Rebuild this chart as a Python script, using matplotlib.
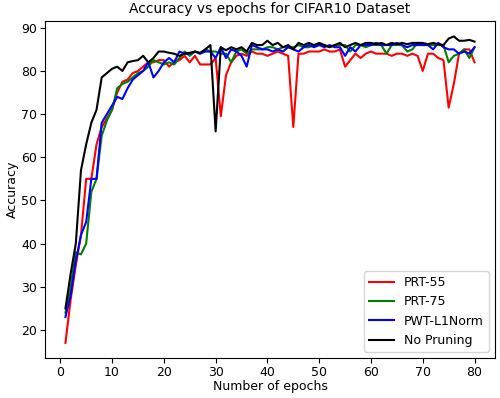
import numpy as np
import matplotlib
matplotlib.use('Agg')
import matplotlib.pyplot as plt

epochs = list(range(1, 81))

# PRT-55
prt55 = [17, 27, 35, 42, 55, 55, 63, 67, 69, 71,
         75, 77.5, 78, 79.5, 80, 81, 82, 82, 82.5, 82.5,
         81, 82, 82.5, 83.5, 82, 83.5, 81.5, 81.5, 81.5, 83,
         69.5, 79, 82, 83.5, 84, 83.5, 84.5, 84, 84, 83.5,
         84, 84.5, 84, 83.5, 67, 84, 84, 84.5, 84.5, 84.5,
         85, 84.5, 84.5, 85, 81, 82.5, 84, 83, 84, 84.5,
         84, 84, 84, 83.5, 84, 84, 83.5, 84, 83.5, 80,
         84, 84, 83, 82.5, 71.5, 77, 84, 85, 85, 82]
# PRT-75
prt75 = [24, 30, 38, 37.5, 40, 52, 55, 65, 68.5, 71,
         76, 77, 77.5, 78.5, 79.5, 80, 81, 82.5, 82, 81.5,
         82, 81.5, 83, 84.5, 83.5, 84.5, 84, 85, 84.5, 84.5,
         84, 84, 82, 84.5, 85, 84, 85, 85, 85, 85.5,
         85.5, 85, 85.5, 85.5, 85.5, 86, 85.5, 85.5, 86, 86,
         86, 85.5, 86, 86, 86, 84.5, 86, 86, 85.5, 86,
         86, 86, 84, 86, 86, 86, 84.5, 85, 86.5, 86,
         86, 86, 86, 86, 82, 83.5, 84, 85, 83, 85.5]
# PWT-L1Norm
pwt = [23, 28, 36, 42, 45, 55, 55, 68, 70, 72,
       74, 73.5, 76, 78, 79, 80, 82, 78.5, 80, 82,
       83, 82, 84.5, 84, 84, 84.5, 84, 84.5, 84.5, 83,
       85.5, 83, 85, 84.5, 83.5, 81, 86, 85.5, 85, 85,
       84.5, 85, 84.5, 85.5, 85, 84.5, 85.5, 86, 85.5, 86,
       85.5, 86, 85.5, 85.5, 83.5, 85.5, 84.5, 86, 86, 86,
       86.5, 86, 86, 86, 86.5, 86, 85.5, 86, 86, 86,
       86, 85, 86.5, 85.5, 85, 85, 84, 84.5, 84, 85.5]
# No Pruning
nopr = [25, 33, 40, 57, 63, 68, 71, 78.5, 79.5, 80.5,
        81, 80, 82, 82.3, 82.5, 83.5, 82, 83, 84.5, 84.5,
        84.2, 84, 83.5, 84, 84.2, 84.5, 84.2, 85, 86, 66,
        85.5, 84.8, 85.5, 85, 85.5, 84.5, 86.5, 86, 86, 87,
        86, 86.5, 85.5, 86, 85, 86.5, 86, 86.5, 86, 86.5,
        86, 85.5, 86, 86.5, 85.5, 86, 86.5, 86, 86.5, 86.5,
        86.2, 86.5, 86, 86.5, 86.2, 86.5, 86.2, 86.5, 86.5, 86.5,
        86.2, 86.5, 86.2, 86, 87.5, 88, 87, 87, 87.2, 86.8]

fig, ax = plt.subplots(figsize=(5, 3.98), dpi=100)
fig.subplots_adjust(left=0.09, right=0.99, top=0.947, bottom=0.1)

ax.plot(epochs, prt55, color='r', label='PRT-55')
ax.plot(epochs, prt75, color='g', label='PRT-75')
ax.plot(epochs, pwt, color='b', label='PWT-L1Norm')
ax.plot(epochs, nopr, color='k', label='No Pruning')

ax.set_title('Accuracy vs epochs for CIFAR10 Dataset', fontsize=10)
ax.set_xlabel('Number of epochs', fontsize=9, labelpad=1)
ax.set_ylabel('Accuracy', fontsize=9, labelpad=2)
ax.tick_params(labelsize=9, pad=2)
ax.legend(loc='lower right', fontsize=9)

fig.savefig('out.png')
